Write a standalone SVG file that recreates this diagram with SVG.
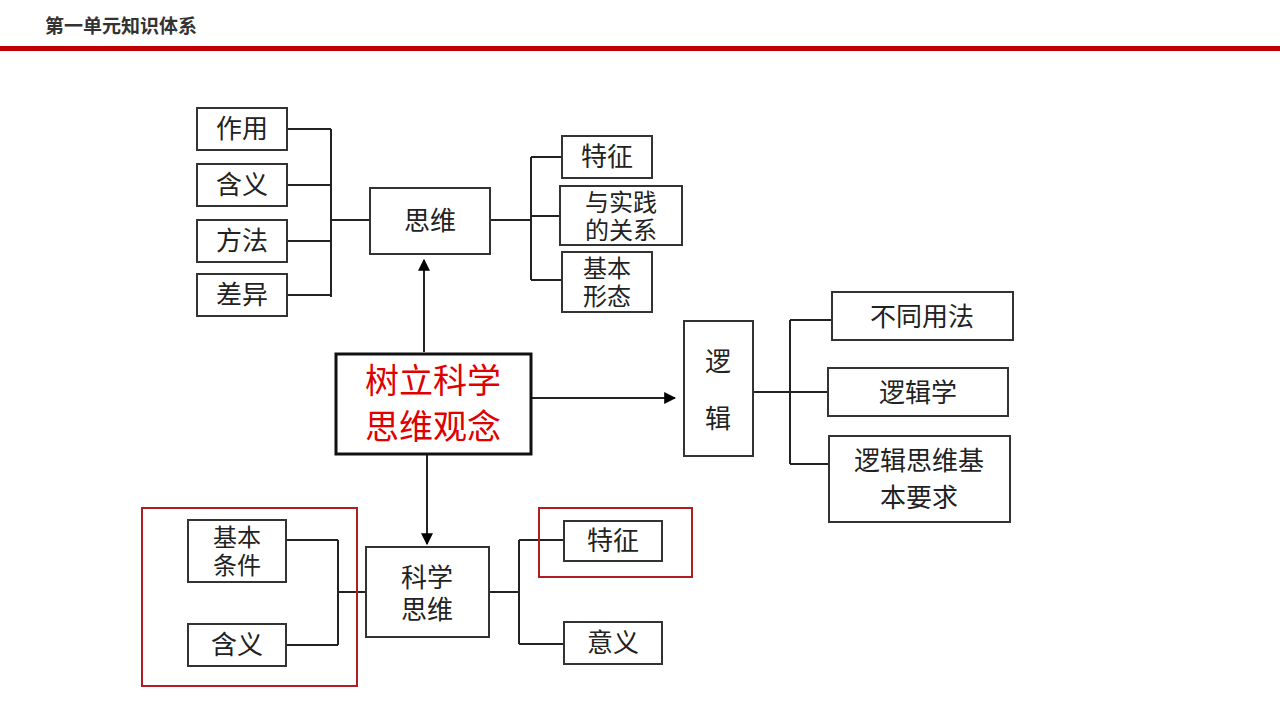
<svg xmlns="http://www.w3.org/2000/svg" width="1280" height="720" viewBox="0 0 1280 720">
<defs>
<style>
.b{fill:#fff;stroke:#333;stroke-width:2}
.t{font-family:"Noto Sans CJK SC",sans-serif;font-size:26px;fill:#222;text-anchor:middle}
.s{font-size:24px}
.l{stroke:#222;stroke-width:2;fill:none}
.r{fill:none;stroke:#b01e23;stroke-width:2}
</style>
<marker id="a" viewBox="0 0 10 10" refX="9" refY="5" markerWidth="6" markerHeight="6" orient="auto"><path d="M0,0L10,5L0,10z" fill="#000"/></marker>
</defs>
<rect width="1280" height="720" fill="#fff"/>
<text x="45" y="33" font-family="Noto Sans CJK SC,sans-serif" font-size="19" font-weight="bold" fill="#333">第一单元知识体系</text>
<rect x="0" y="46" width="1280" height="5" fill="#c00000"/>
<g id="connectors">
<path class="l" d="M287,129H331M287,185H331M287,241H331M287,295H331M331,129V297M331,220H370"/>
<path class="l" d="M490,220H531M531,157V280M531,157H562M531,216H560M531,280H562"/>
<path class="l" d="M424,352V260" marker-end="url(#a)" stroke-width="2.5"/>
<path class="l" d="M531,398H675" marker-end="url(#a)" stroke-width="2.5"/>
<path class="l" d="M427,454V544" marker-end="url(#a)" stroke-width="2.5"/>
<path class="l" d="M753,392H790M790,320V464M790,320H832M790,392H828M790,464H829"/>
<path class="l" d="M286,540H338M286,645H338M338,540V645M338,592H366"/>
<path class="l" d="M489,592H519M519,540V644M519,540H564M519,644H564"/>
</g>
<g id="n1"><rect class="b" x="197" y="108" width="90" height="42"/><text class="t" x="242" y="138">作用</text></g>
<g id="n2"><rect class="b" x="197" y="164" width="90" height="42"/><text class="t" x="242" y="194">含义</text></g>
<g id="n3"><rect class="b" x="197" y="220" width="90" height="42"/><text class="t" x="242" y="250">方法</text></g>
<g id="n4"><rect class="b" x="197" y="274" width="90" height="42"/><text class="t" x="242" y="304">差异</text></g>
<g id="siwei"><rect class="b" x="370" y="188" width="120" height="66"/><text class="t" x="430" y="230">思维</text></g>
<g id="n5"><rect class="b" x="562" y="136" width="90" height="42"/><text class="t" x="607" y="166">特征</text></g>
<g id="n6"><rect class="b" x="560" y="186" width="122" height="59"/><text class="t s" x="621" y="211">与实践</text><text class="t s" x="621" y="239">的关系</text></g>
<g id="n7"><rect class="b" x="562" y="252" width="90" height="60"/><text class="t s" x="607" y="277">基本</text><text class="t s" x="607" y="305">形态</text></g>
<g id="center"><rect x="336" y="354" width="195" height="100" fill="#fff" stroke="#111" stroke-width="3"/><text class="t" x="433" y="393" style="font-size:34px;fill:#e00000">树立科学</text><text class="t" x="433" y="439" style="font-size:34px;fill:#e00000">思维观念</text></g>
<g id="luoji"><rect class="b" x="684" y="321" width="69" height="135"/><text class="t" x="718" y="371">逻</text><text class="t" x="718" y="428">辑</text></g>
<g id="n8"><rect class="b" x="832" y="292" width="181" height="48"/><text class="t" x="922" y="326">不同用法</text></g>
<g id="n9"><rect class="b" x="828" y="368" width="180" height="48"/><text class="t" x="918" y="402">逻辑学</text></g>
<g id="n10"><rect class="b" x="829" y="436" width="181" height="86"/><text class="t" x="919" y="470">逻辑思维基</text><text class="t" x="919" y="507">本要求</text></g>
<g id="kxsw"><rect class="b" x="366" y="547" width="123" height="90"/><text class="t" x="427" y="587">科学</text><text class="t" x="427" y="619">思维</text></g>
<g id="n11"><rect class="b" x="188" y="520" width="98" height="62"/><text class="t s" x="237" y="546">基本</text><text class="t s" x="237" y="574">条件</text></g>
<g id="n12"><rect class="b" x="188" y="624" width="98" height="42"/><text class="t" x="237" y="654">含义</text></g>
<g id="n13"><rect class="b" x="564" y="521" width="98" height="40"/><text class="t" x="613" y="550">特征</text></g>
<g id="n14"><rect class="b" x="564" y="622" width="98" height="42"/><text class="t" x="613" y="652">意义</text></g>
<rect class="r" x="142" y="508" width="215" height="178"/>
<rect class="r" x="539" y="508" width="153" height="69"/>
</svg>
